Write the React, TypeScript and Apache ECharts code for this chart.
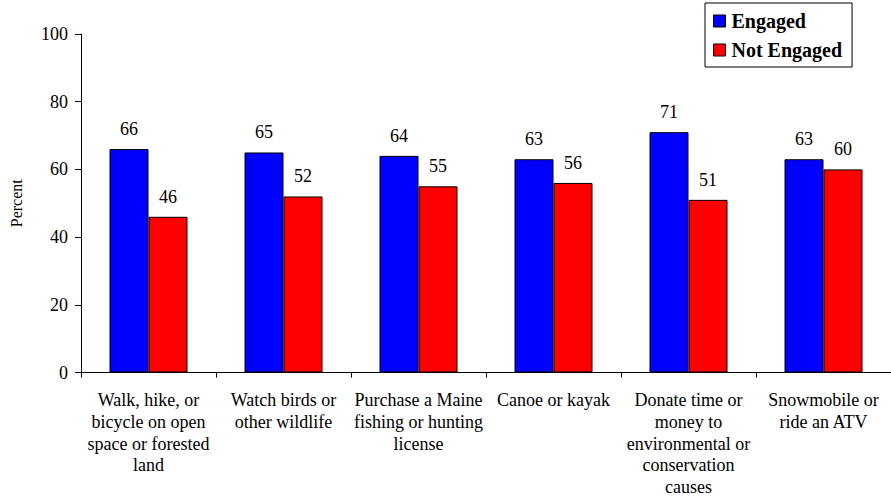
import React, { useEffect, useRef } from "react";
import * as echarts from "echarts";

const categories = [
  "Walk, hike, or\nbicycle on open\nspace or forested\nland",
  "Watch birds or\nother wildlife",
  "Purchase a Maine\nfishing or hunting\nlicense",
  "Canoe or kayak",
  "Donate time or\nmoney to\nenvironmental or\nconservation\ncauses",
  "Snowmobile or\nride an ATV",
];
const engaged = [66, 65, 64, 63, 71, 63];
const notEngaged = [46, 52, 55, 56, 51, 60];
const yTicks = { min: 0, max: 100, interval: 20 };

const FONT = "'Liberation Serif', 'Times New Roman', serif";

export default function App() {
  const ref = useRef<HTMLDivElement>(null);
  useEffect(() => {
    if (!ref.current) return;
    const chart = echarts.init(ref.current, undefined, { renderer: "svg" });
    const labelStyle = {
      show: true,
      position: "top" as const,
      distance: 11,
      color: "#000",
      fontFamily: FONT,
      fontSize: 18,
    };
    chart.setOption({
      animation: false,
      backgroundColor: "#fff",
      textStyle: { fontFamily: FONT, color: "#000" },
      grid: { left: 80, top: 34, width: 820, height: 342, containLabel: false },
      legend: {
        orient: "vertical",
        left: 705,
        top: 3,
        backgroundColor: "#fff",
        borderColor: "#000",
        borderWidth: 1,
        borderRadius: 0,
        padding: [8, 10, 7, 8],
        itemGap: 9,
        itemWidth: 12,
        itemHeight: 12,
        icon: "rect",
        itemStyle: { borderColor: "#000", borderWidth: 1 },
        textStyle: {
          fontFamily: FONT,
          fontSize: 20,
          fontWeight: "bold",
          color: "#000",
          lineHeight: 20,
          padding: [0, 0, 0, 1],
        },
        data: ["Engaged", "Not Engaged"],
      },
      xAxis: {
        type: "category",
        data: categories,
        axisLine: { lineStyle: { color: "#000", width: 1 } },
        axisTick: { show: true, length: 5, lineStyle: { color: "#000" }, alignWithLabel: false },
        axisLabel: {
          interval: 0,
          margin: 17,
          color: "#000",
          fontFamily: FONT,
          fontSize: 18,
          lineHeight: 21.7,
        },
      },
      yAxis: {
        type: "value",
        min: yTicks.min,
        max: yTicks.max,
        interval: yTicks.interval,
        name: "Percent",
        nameLocation: "middle",
        nameGap: 57,
        nameRotate: 90,
        nameTextStyle: { fontFamily: FONT, fontSize: 16, color: "#000" },
        axisLine: { show: true, lineStyle: { color: "#000", width: 1 } },
        axisTick: { show: true, length: 6, lineStyle: { color: "#000" } },
        axisLabel: { margin: 13, color: "#000", fontFamily: FONT, fontSize: 18 },
        splitLine: { show: false },
      },
      series: [
        {
          name: "Engaged",
          type: "bar",
          data: engaged,
          barWidth: 39,
          barGap: "0%",
          itemStyle: { color: "#0000FF", borderColor: "#000", borderWidth: 1 },
          label: labelStyle,
        },
        {
          name: "Not Engaged",
          type: "bar",
          data: notEngaged,
          barWidth: 39,
          barGap: "0%",
          itemStyle: { color: "#FF0000", borderColor: "#000", borderWidth: 1 },
          label: labelStyle,
        },
      ],
    });
    return () => chart.dispose();
  }, []);
  return <div ref={ref} style={{ width: 891, height: 498, position: "fixed", left: 0, top: 0 }} />;
}
